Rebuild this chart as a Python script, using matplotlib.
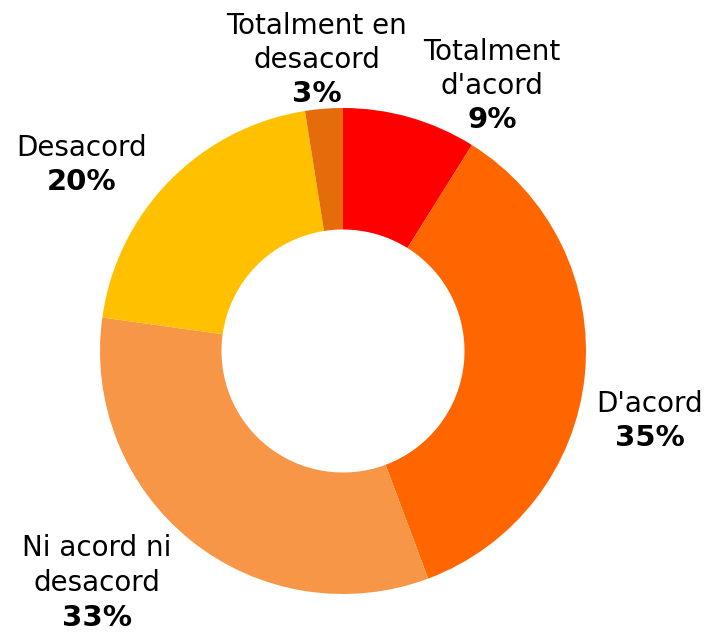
import matplotlib
matplotlib.use("Agg")
import matplotlib.pyplot as plt

categories = ["Totalment\nd'acord", "D'acord", "Ni acord ni\ndesacord", "Desacord", "Totalment en\ndesacord"]
values = [8.9, 35.4, 32.9, 20.3, 2.5]
pct_labels = ["9%", "35%", "33%", "20%", "3%"]
colors = ["#FF0000", "#FF6600", "#F79646", "#FFC000", "#E46C0A"]

# label anchor positions (pixel coords, y from top)
label_pos = [(492, 86), (650, 421), (97, 583), (82, 165), (317, 60)]

W, H = 709, 632
fig = plt.figure(figsize=(W / 100, H / 100), dpi=100)
ax = fig.add_axes([0, 0, 1, 1])

cx, cy, R = 343, H - 351, 243
ax.pie(values, colors=colors, startangle=90, counterclock=False,
       center=(cx, cy), radius=R, wedgeprops=dict(width=R * 0.5, linewidth=0),
       frame=True)
ax.set_xlim(0, W)
ax.set_ylim(0, H)
ax.set_aspect("equal")
ax.axis("off")

fs_reg = 20
fs_bold = 21
lh = 34.5
for cat, pct, (x, y) in zip(categories, pct_labels, label_pos):
    lines = cat.split("\n")
    nlines = len(lines)
    total = (nlines + 1) * lh
    top = y - total / 2 + lh / 2
    for i, line in enumerate(lines):
        ax.text(x, H - (top + i * lh), line, ha="center", va="center",
                fontsize=fs_reg, family="DejaVu Sans", color="black")
    ax.text(x, H - (top + nlines * lh), pct, ha="center", va="center",
            fontsize=fs_bold, fontweight="bold", family="DejaVu Sans", color="black")

fig.savefig("out.png", dpi=100)
